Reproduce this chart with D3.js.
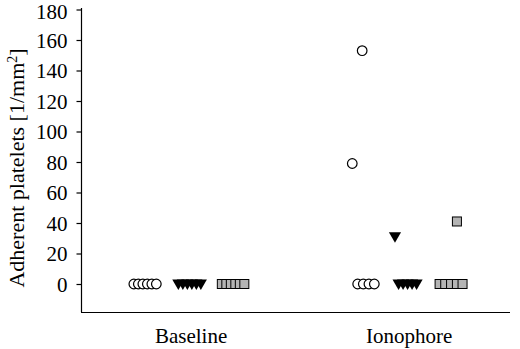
<!DOCTYPE html>
<html>
<head>
<meta charset="utf-8">
<script src="https://cdn.jsdelivr.net/npm/d3@7"></script>
<style>
  body { margin: 0; background: #fff; }
  svg { display: block; }
  text { font-family: "Liberation Serif", "Times New Roman", serif; fill: #000; }
</style>
</head>
<body>
<div id="chart"></div>
<script>
// groups on the x axis
const groups = ["Baseline", "Ionophore"];
const yTicks = [0, 20, 40, 60, 80, 100, 120, 140, 160, 180];

// adherent platelets per subject, one array per marker series and group
const circleBaseline = [0, 0, 0, 0, 0, 0];
const circleIonophore = [79, 153, 0, 0, 0, 0];
const triangleBaseline = [0, 0, 0, 0, 0, 0];
const triangleIonophore = [31, 0, 0, 0, 0, 0];
const squareBaseline = [0, 0, 0, 0, 0, 0];
const squareIonophore = [41, 0, 0, 0, 0, 0];

// horizontal jitter slots of each point (same order as values)
const circleBaselineSlot = [-2.5, -1.5, -0.5, 0.5, 1.5, 2.5];
const circleIonophoreSlot = [-2.4, -0.2, -1.2, 0.05, 1.3, 2.5];
const triangleBaselineSlot = [-2.5, -1.5, -0.5, 0.5, 1.5, 2.5];
const triangleIonophoreSlot = [-2.8, -2, -1, 0, 1, 2];
const squareBaselineSlot = [-2.5, -1.5, -0.5, 0.5, 1.5, 2.5];
const squareIonophoreSlot = [1.3, -2.55, -1.3, 0, 1.3, 2.55];

const width = 520, height = 349;
const svg = d3.select("#chart").append("svg")
    .attr("width", width)
    .attr("height", height);

const x = d3.scaleLinear().domain([0.495, 2.463]).range([81, 510]);
const y = d3.scaleLinear().domain([0, 180]).range([284, 9.5]);
const slot = d3.scaleLinear().domain([0, 1]).range([0, 4.5]);
const seriesShift = { circle: -46, triangle: -1.5, square: 42 };

// axes
svg.append("line")
    .attr("x1", 81.5).attr("x2", 81.5)
    .attr("y1", 8).attr("y2", 312)
    .attr("stroke", "#000").attr("stroke-width", 1.2);
svg.append("line")
    .attr("x1", 81).attr("x2", 510)
    .attr("y1", 312.5).attr("y2", 312.5)
    .attr("stroke", "#000").attr("stroke-width", 1.2);

const yAxis = svg.append("g")
    .attr("transform", "translate(81.5,0)")
    .call(d3.axisLeft(y).tickValues(yTicks).tickSize(5).tickPadding(9));
yAxis.select(".domain").remove();
yAxis.selectAll("line").attr("stroke-width", 1.2);
yAxis.selectAll("text")
    .style("font-family", "Liberation Serif, serif")
    .style("font-size", "21px")
    .attr("dy", d => d === 180 ? "0.44em" : "0.34em"); // keep top label inside

// category labels
svg.selectAll(".cat")
  .data(groups)
  .join("text")
    .attr("class", "cat")
    .attr("x", (d, i) => x(i + 1))
    .attr("y", 343)
    .attr("text-anchor", "middle")
    .style("font-size", "21px")
    .text(d => d);

// y title
const title = svg.append("text")
    .attr("transform", "translate(24,168) rotate(-90)")
    .attr("text-anchor", "middle")
    .style("font-size", "22px");
title.append("tspan").text("Adherent platelets [1/mm");
title.append("tspan").attr("baseline-shift", "super").style("font-size", "14px").text("2");
title.append("tspan").text("]");

function pts(values, slots, group, kind) {
  return values.map((v, i) => ({
    kind,
    cx: x(group) + seriesShift[kind] + slot(slots[i]),
    cy: y(v)
  }));
}

const circles = [
  ...pts(circleBaseline, circleBaselineSlot, 1, "circle"),
  ...pts(circleIonophore, circleIonophoreSlot, 2, "circle")
];
const triangles = [
  ...pts(triangleBaseline, triangleBaselineSlot, 1, "triangle"),
  ...pts(triangleIonophore, triangleIonophoreSlot, 2, "triangle")
];
const squares = [
  ...pts(squareBaseline, squareBaselineSlot, 1, "square"),
  ...pts(squareIonophore, squareIonophoreSlot, 2, "square")
];

svg.append("g").selectAll("circle")
  .data(circles)
  .join("circle")
    .attr("cx", d => d.cx)
    .attr("cy", d => d.cy)
    .attr("r", 4.8)
    .attr("fill", "#fff")
    .attr("stroke", "#000")
    .attr("stroke-width", 1.2);

const tri = d3.symbol().type(d3.symbolTriangle).size(64);
svg.append("g").selectAll("path")
  .data(triangles)
  .join("path")
    .attr("d", tri)
    .attr("transform", d => `translate(${d.cx},${d.cy - 1}) rotate(180)`)
    .attr("fill", "#000");

svg.append("g").selectAll("rect")
  .data(squares)
  .join("rect")
    .attr("x", d => d.cx - 4.5)
    .attr("y", d => d.cy - 4.5)
    .attr("width", 9)
    .attr("height", 9)
    .attr("fill", "#b4b4b4")
    .attr("stroke", "#000")
    .attr("stroke-width", 1);
</script>
</body>
</html>
